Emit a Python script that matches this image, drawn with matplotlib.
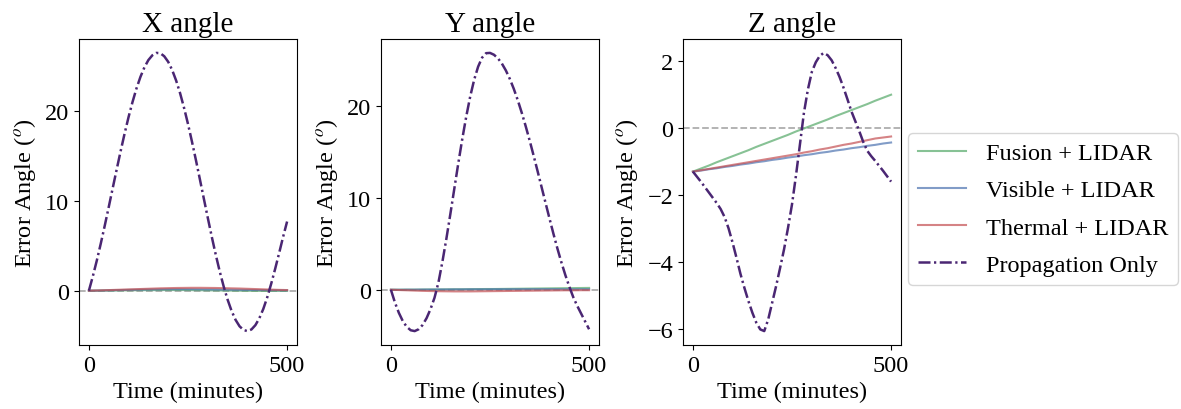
import matplotlib
matplotlib.use("Agg")
import matplotlib.pyplot as plt

plt.rcParams['font.family'] = ['Liberation Serif', 'DejaVu Serif']
plt.rcParams['mathtext.fontset'] = 'stix'

# sample times (minutes)
time_coarse = [0, 20, 40, 60, 80, 100, 120, 140, 160, 180, 200, 220, 240,
               260, 280, 300, 320, 340, 360, 380, 400, 420, 440, 460, 480, 500]
time_fine = [0, 10, 20, 30, 40, 50, 60, 70, 80, 90, 100, 110, 120, 130, 140, 150, 160,
             170, 180, 190, 200, 210, 220, 230, 240, 250, 260, 270, 280, 290, 300, 310,
             320, 330, 340, 350, 360, 370, 380, 390, 400, 410, 420, 430, 440, 450, 460,
             470, 480, 490, 500]

# X angle
x_fusion = [0.0, 0.0, 0.01, 0.02, 0.03, 0.04, 0.05, 0.06, 0.06, 0.07, 0.07, 0.07, 0.07,
            0.06, 0.05, 0.04, 0.03, 0.02, 0.01, 0.0, -0.01, -0.02, -0.02, -0.02, -0.02, -0.02]
x_visible = [0.0, 0.01, 0.03, 0.05, 0.07, 0.09, 0.11, 0.13, 0.14, 0.15, 0.16, 0.16, 0.16,
             0.16, 0.15, 0.14, 0.13, 0.12, 0.11, 0.10, 0.09, 0.08, 0.07, 0.06, 0.05, 0.04]
x_thermal = [0.0, 0.02, 0.05, 0.08, 0.11, 0.14, 0.17, 0.20, 0.23, 0.26, 0.28, 0.30, 0.31,
             0.32, 0.32, 0.31, 0.30, 0.28, 0.26, 0.24, 0.21, 0.18, 0.15, 0.12, 0.09, 0.07]
x_prop = [0.0, 1.62, 3.37, 5.26, 7.25, 9.31, 11.41, 13.49, 15.53, 17.49, 19.33, 21.01, 22.52,
          23.81, 24.87, 25.68, 26.21, 26.48, 26.45, 26.11, 25.49, 24.58, 23.41, 22.0, 20.37,
          18.56, 16.6, 14.54, 12.4, 10.24, 8.1, 6.0, 4.01, 2.15, 0.47, -1.01, -2.26, -3.25,
          -3.96, -4.38, -4.5, -4.32, -3.84, -3.07, -2.03, -0.73, 0.79, 2.45, 4.2, 6.0, 7.7]

# Y angle
y_fusion = [0.0, 0.0, 0.01, 0.01, 0.02, 0.03, 0.03, 0.04, 0.05, 0.05, 0.06, 0.07, 0.08,
            0.08, 0.09, 0.10, 0.11, 0.12, 0.13, 0.14, 0.15, 0.16, 0.17, 0.18, 0.19, 0.20]
y_visible = [0.0, 0.0, 0.01, 0.01, 0.02, 0.02, 0.03, 0.03, 0.04, 0.04, 0.05, 0.05, 0.05,
             0.06, 0.06, 0.06, 0.06, 0.06, 0.06, 0.06, 0.06, 0.06, 0.05, 0.05, 0.05, 0.05]
y_thermal = [0.0, -0.03, -0.06, -0.09, -0.12, -0.14, -0.16, -0.17, -0.18, -0.18, -0.18, -0.17, -0.16,
             -0.15, -0.14, -0.13, -0.12, -0.11, -0.10, -0.09, -0.08, -0.07, -0.06, -0.06, -0.05, -0.05]
y_prop = [0.0, -1.37, -2.51, -3.41, -4.04, -4.41, -4.5, -4.3, -3.83, -3.09, -2.1, -0.87, 0.81,
          3.07, 5.57, 8.25, 11.01, 13.76, 16.4, 18.84, 21.02, 22.85, 24.28, 25.26, 25.75,
          25.78, 25.58, 25.19, 24.62, 23.87, 22.95, 21.87, 20.64, 19.28, 17.81, 16.25, 14.61,
          12.92, 11.2, 9.48, 7.77, 6.1, 4.5, 3.0, 1.61, 0.35, -0.8, -1.75, -2.6, -3.45, -4.3]

# Z angle
z_fusion = [-1.30, -1.21, -1.12, -1.02, -0.93, -0.84, -0.75, -0.66, -0.56, -0.47, -0.38, -0.29, -0.20,
            -0.10, -0.01, 0.08, 0.17, 0.26, 0.36, 0.45, 0.54, 0.63, 0.72, 0.82, 0.91, 1.00]
z_visible = [-1.30, -1.27, -1.23, -1.20, -1.16, -1.13, -1.09, -1.06, -1.02, -0.99, -0.95, -0.92, -0.88,
             -0.85, -0.81, -0.78, -0.74, -0.71, -0.67, -0.64, -0.60, -0.57, -0.53, -0.50, -0.46, -0.43]
z_thermal = [-1.30, -1.26, -1.22, -1.18, -1.14, -1.10, -1.06, -1.02, -0.98, -0.94, -0.90, -0.86, -0.82,
             -0.78, -0.73, -0.69, -0.64, -0.60, -0.55, -0.50, -0.46, -0.41, -0.36, -0.31, -0.28, -0.25]
z_prop = [-1.30, -1.45, -1.60, -1.76, -1.92, -2.08, -2.24, -2.42, -2.66, -3.0, -3.42, -3.88, -4.36,
          -4.78, -5.17, -5.52, -5.82, -6.02, -6.07, -5.72, -5.22, -4.72, -4.18, -3.62, -2.98,
          -2.28, -1.42, -0.49, 0.45, 1.15, 1.68, 1.97, 2.16, 2.25, 2.18, 2.03, 1.8, 1.53, 1.21,
          0.86, 0.5, 0.2, -0.1, -0.42, -0.68, -0.84, -0.98, -1.13, -1.28, -1.44, -1.6]

titles = ['X angle', 'Y angle', 'Z angle']
series_labels = ['Fusion + LIDAR', 'Visible + LIDAR', 'Thermal + LIDAR', 'Propagation Only']
panels = [
    (x_fusion, x_visible, x_thermal, x_prop),
    (y_fusion, y_visible, y_thermal, y_prop),
    (z_fusion, z_visible, z_thermal, z_prop),
]

c_green = '#55a868'
c_blue = '#4c72b0'
c_red = '#c44e52'
c_purple = '#4a2673'

W, H = 1181, 410
fig = plt.figure(figsize=(W / 100, H / 100), dpi=100)
lefts = [79, 381, 683]
ax_w, top, bottom = 218, 40, 346
axes = []
for i, lx in enumerate(lefts):
    ax = fig.add_axes([lx / W, (H - bottom) / H, ax_w / W, (bottom - top) / H])
    fu, vi, th, pr = panels[i]
    ax.axhline(0, color='#999999', ls='--', lw=1.3, alpha=0.8, zorder=1)
    ax.plot(time_coarse, fu, color=c_green, alpha=0.7, lw=1.5, label=series_labels[0])
    ax.plot(time_coarse, vi, color=c_blue, alpha=0.7, lw=1.5, label=series_labels[1])
    ax.plot(time_coarse, th, color=c_red, alpha=0.7, lw=1.5, label=series_labels[2])
    ax.plot(time_fine, pr, color=c_purple, lw=1.8, dashes=(4.8, 1.4, 0.9, 1.4),
            label=series_labels[3])
    ax.set_title(titles[i], fontsize=21)
    ax.set_xlabel('Time (minutes)', fontsize=17.5)
    ax.set_ylabel(r'Error Angle ($^o$)', fontsize=17.5, labelpad=5)
    ax.tick_params(labelsize=17.5)
    ax.set_xticks([0, 500])
    axes.append(ax)

axes[2].set_yticks([-6, -4, -2, 0, 2])
handles, labels = axes[2].get_legend_handles_labels()
fig.legend(handles, labels, loc='center left', borderaxespad=0,
           bbox_to_anchor=(908 / W, 1 - 210 / H), fontsize=17.5, frameon=True,
           handlelength=2.0, labelspacing=0.62)

fig.savefig('out.png', dpi=100)
